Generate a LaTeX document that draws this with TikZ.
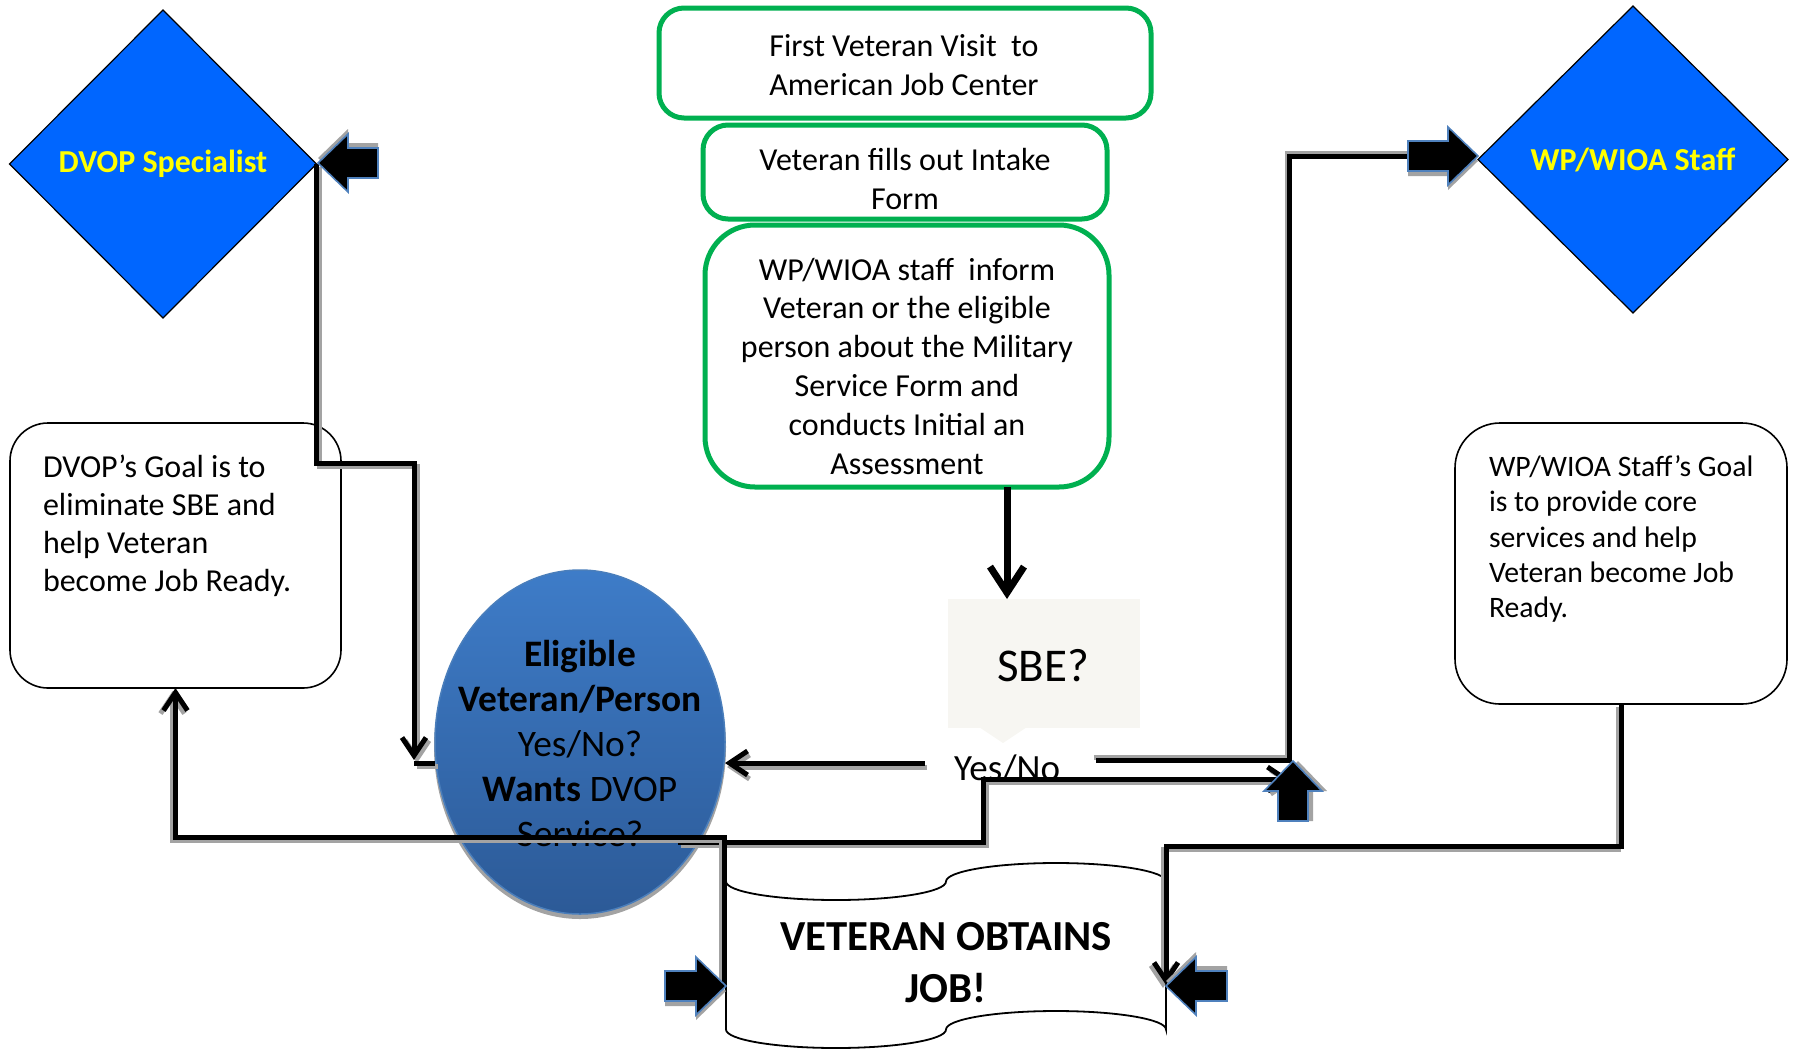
\documentclass[tikz,border=0pt]{standalone}
\usepackage{fontspec}
\setmainfont{Carlito}
\usetikzlibrary{arrows.meta,shapes.geometric,calc}
\definecolor{dblue}{HTML}{0066FF}
\definecolor{ygold}{HTML}{FFFF00}
\definecolor{boxgreen}{HTML}{00B050}
\definecolor{elltop}{HTML}{3E7CC8}
\definecolor{ellbot}{HTML}{2C5A97}
\definecolor{elledge}{HTML}{4A7EBB}
\definecolor{sbegray}{HTML}{F7F6F2}
\definecolor{arrblue}{HTML}{4F81BD}
\definecolor{shgray}{HTML}{A3A3A3}

\newcommand{\mkblockarrow}[4]{%
  \begin{scope}[shift={(#1,#2)},rotate=#3]
    \fill[shgray] (0,5) -- (-30,-24) -- (-30,-10) -- (-#4,-10) -- (-#4,20) -- (-30,20) -- (-30,34) -- cycle;
    \filldraw[fill=black,draw=arrblue,line width=1.6pt,line join=miter] (0,0) -- (-30,-29) -- (-30,-15) -- (-#4,-15) -- (-#4,15) -- (-30,15) -- (-30,29) -- cycle;
  \end{scope}}

\begin{document}
\begin{tikzpicture}[x=1pt,y=-1pt,
  every node/.style={inner sep=0pt, outer sep=0pt},
  dia/.style={diamond, draw=black, line width=1.2pt, fill=dblue, text=ygold, font=\fontsize{32}{38}\selectfont\bfseries},
  gbox/.style={draw=boxgreen, line width=5pt, fill=white, rectangle},
  goalbox/.style={draw=black, line width=1.6pt, rectangle, fill=white},
  txt/.style={align=center, font=\fontsize{32}{38.5}\selectfont},
  conn/.style={line width=5pt, line cap=butt, line join=miter, preaction={draw=shgray, line width=5pt, transform canvas={shift={#1}}}},
  conn/.default={(3pt,-3pt)},
  barb/.style={-{Straight Barb[length=18pt,width=24pt]}},
]
\useasboundingbox (0,0) rectangle (1795,1050);

% diamonds
\node[dia, minimum width=307pt, minimum height=308pt] (dvop) at (163,164) {DVOP Specialist};
\node[dia, minimum width=310pt, minimum height=307pt] (wp) at (1633,159.5) {WP/WIOA Staff};

% green boxes
\node[gbox, rounded corners=25pt, minimum width=492pt, minimum height=110pt] (g1) at (905,63) {};
\node[txt] (g1t) at (904,65) {First Veteran Visit\ \ to\\American Job Center};
\node[gbox, rounded corners=25pt, minimum width=404pt, minimum height=94pt] (g2) at (905,172) {};
\node[txt] (g2t) at (905,179) {Veteran fills out Intake\\Form};
\node[gbox, rounded corners=50pt, minimum width=404pt, minimum height=262pt] (g3) at (907,356) {};
\node[align=center, font=\fontsize{32}{38.8}\selectfont] (g3t) at (907,366) {WP/WIOA staff\ \ inform\\Veteran or the eligible\\person about the Military\\Service Form and\\conducts Initial an\\Assessment};

% goal boxes
\node[goalbox, rounded corners=38pt, minimum width=331pt, minimum height=265pt] (dvopgoal) at (175.5,555.5) {};
\node[font=\fontsize{32}{38}\selectfont, align=left, anchor=west] (dvopgt) at (43,526) {DVOP’s Goal is to\\eliminate SBE and\\help Veteran\\become Job Ready.};
\node[goalbox, rounded corners=45pt, minimum width=332pt, minimum height=281pt] (wpgoal) at (1621,563.5) {};
\node[font=\fontsize{29.7}{35.3}\selectfont, align=left, anchor=west] (wpgt) at (1489,539) {WP/WIOA Staff’s Goal\\is to provide core\\services and help\\Veteran become Job\\Ready.};

% SBE callout
\node[fill=sbegray, minimum width=192pt, minimum height=129pt] (sbe) at (1043.5,663.5) {};
\fill[sbegray] (979,727) -- (1027,727) -- (1003,743) -- cycle;
\node[font=\fontsize{47}{56}\selectfont] (sbet) at (1043,666) {SBE?};
\node[font=\fontsize{37}{44}\selectfont] (yn) at (1007,768) {Yes/No};

% ellipse
\fill[shgray] (580,747) ellipse [x radius=146, y radius=172];
\node[ellipse, minimum width=290pt, minimum height=344pt, top color=elltop, bottom color=ellbot, draw=elledge, line width=1.5pt] (ell) at (580,742) {};
\node[align=center, font=\fontsize{37.4}{45}\selectfont] (ellt) at (580,743) {\textbf{Eligible}\\\textbf{Veteran/Person}\\Yes/No?\\\textbf{Wants} DVOP\\Service?};

% document (punched tape)
\draw[line width=1.8pt, fill=white] (726,881.5)
  arc[start angle=180, end angle=0, x radius=110, y radius=18.5]
  arc[start angle=180, end angle=360, x radius=110, y radius=18.5]
  -- (1166,1029.5)
  arc[start angle=0, end angle=-180, x radius=110, y radius=18.5]
  arc[start angle=0, end angle=180, x radius=110, y radius=18.5] -- cycle;
\node[align=center, font=\fontsize{42.8}{52}\selectfont\bfseries] (doc) at (946,963) {VETERAN OBTAINS\\JOB!};

\coordinate (ynL) at (925,763);
\coordinate (ynR) at (1096,760);
\coordinate (st) at (414,763);

% connectors
\draw[line width=7pt, -{Straight Barb[length=26pt,width=34pt]}] (g3.south -| yn) -- (sbe.north -| yn);
\draw[conn, barb] (dvop.east) |- (414,463) -- (414,760);
\draw[conn] (st) -- (ell.west |- st);
\draw[conn={(2pt,-4pt)}, barb] (ynL) -- (ell.east |- ynL);
\draw[conn={(-2pt,3pt)}] (ynR) -| (1289,156) -- (1410,156);
\draw[conn, barb] (678,842) -- (983,842) -- (983,779) -- (1290,779);
\draw[conn={(-3pt,-3pt)}, barb] (724,986) -- (724,837) -| (dvopgoal.south);
\draw[conn={(-3pt,-3pt)}, barb] (wpgoal.south) |- (1166,846) -- (1166,985);

% block arrows
\mkblockarrow{1478}{156}{0}{70}
\mkblockarrow{318}{163}{180}{60}
\mkblockarrow{1293}{761}{90}{60}
\mkblockarrow{726}{986}{0}{61}
\mkblockarrow{1166}{986}{180}{61}
\end{tikzpicture}
\end{document}
